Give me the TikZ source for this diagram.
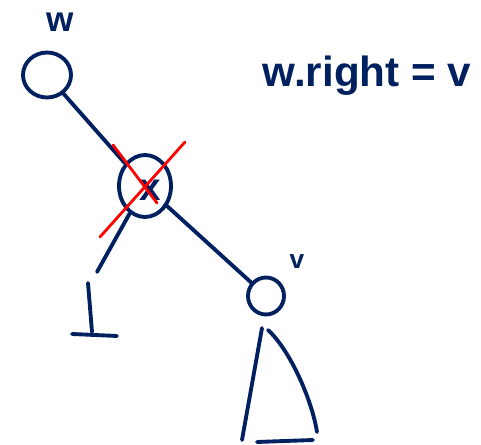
\documentclass[tikz,border=0pt]{standalone}
\usepackage{fontspec}
\setmainfont{Liberation Sans}
\usepackage{tikz}
\usetikzlibrary{shapes.geometric, positioning, calc}
\definecolor{ink}{RGB}{0,32,96}

\begin{document}
\begin{tikzpicture}[x=0.02cm, y=-0.02cm,
  vnode/.style={draw=ink, ellipse, line width=2.2pt, inner sep=0pt},
  edge/.style={draw=ink, line width=2.2pt, line cap=round},
  cross/.style={draw=red, line width=1.6pt, line cap=round},
  lbl/.style={text=ink, inner sep=0pt, font=\bfseries}
]
\useasboundingbox (0,0) rectangle (481,445);

% tree nodes
\node[vnode, minimum width=0.96cm, minimum height=0.9cm] (w) at (47,75) {};
\node[vnode, minimum width=1.04cm, minimum height=1.24cm] (x) at (145,186) {};
\node[vnode, minimum width=0.72cm, minimum height=0.74cm] (v) at (266,296) {};

% labels
\node[lbl, font=\bfseries\fontsize{20}{20}\selectfont] (wl) at (60,22) {w};
\node[lbl, font=\bfseries\fontsize{22}{22}\selectfont] (xl) at (150,190) {x};
\node[lbl, font=\bfseries\fontsize{15}{15}\selectfont] (vl) at (297,262) {v};
\node[lbl, font=\bfseries\fontsize{24}{28}\selectfont] (eq) at (367,76) {w.right = v};

% edges
\draw[edge] (w) -- (x);
\draw[edge] (x) -- (v);
\coordinate (xleft) at (97,272);
\draw[edge] (x) -- (xleft);

% nil below x
\coordinate (nil) at (88,283);
\draw[edge] (nil) -- (92,332);
\draw[edge] (72,334) -- (117,336);

% subtree of v
\coordinate (tl) at (262,328);
\coordinate (tr) at (268,330);
\draw[edge] (tl) -- (242,440);
\draw[edge] (tr) .. controls (290,350) and (312,400) .. (317,432);
\draw[edge] (257,442) -- (313,440);

% crossing out x
\draw[cross] (113,145) -- (157,203);
\draw[cross] (185,142) -- (100,237);
\end{tikzpicture}
\end{document}
